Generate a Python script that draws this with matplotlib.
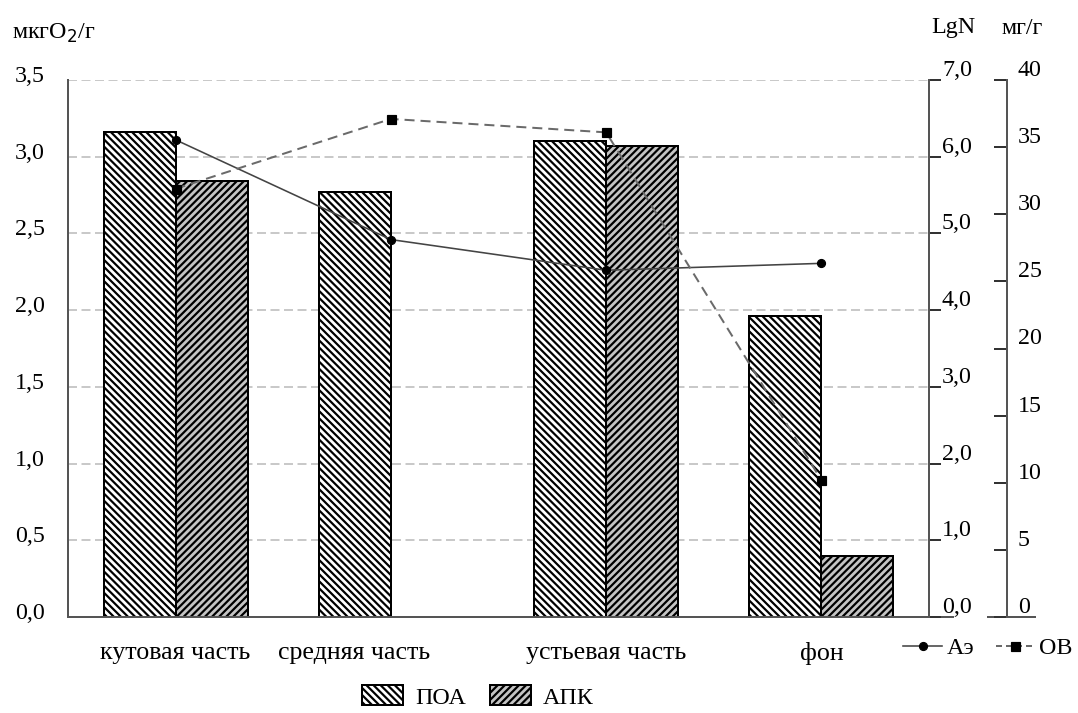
import matplotlib
matplotlib.use("Agg")
import matplotlib.pyplot as plt
import matplotlib.transforms as mtransforms
import numpy as np
from matplotlib.lines import Line2D
from matplotlib.patches import Patch

DPI = 85
W, H = 1078, 713

def px(n):
    # pixels -> points at the figure dpi
    return n * 72.0 / DPI

plt.rcParams['font.family'] = ['Liberation Serif', 'DejaVu Serif']
plt.rcParams['hatch.linewidth'] = px(2.2)

# data
categories = ["кутовая часть", "средняя часть", "устьевая часть", "фон"]
poa = [3.16, 2.77, 3.10, 1.96]        # ПОА, мкгO2/г
apk = [2.84, 0.0, 3.07, 0.40]         # АПК, мкгO2/г
ae = [6.22, 4.92, 4.52, 4.61]         # Аэ, LgN
ov = [31.9, 37.1, 36.1, 10.2]         # ОВ, мг/г
left_ticks = [0.0, 0.5, 1.0, 1.5, 2.0, 2.5, 3.0, 3.5]
lgn_ticks = [0, 1, 2, 3, 4, 5, 6, 7]
mg_ticks = [0, 5, 10, 15, 20, 25, 30, 35, 40]

def comma(v, nd=1):
    return f"{v:.{nd}f}".replace(".", ",")

FS = px(24)
SPINE = "#555555"
HATCH_POA = "\\" * 4
HATCH_APK = "/" * 4

fig = plt.figure(figsize=(W / DPI, H / DPI), dpi=DPI)
ax = fig.add_axes([68/W, 1-617/H, (929-68)/W, (617-80)/H])

x = np.arange(len(categories))
w = 0.335
ax.bar(x - w/2, poa, w, color="white", edgecolor="black", hatch=HATCH_POA, linewidth=px(2), zorder=2)
ax.bar(x + w/2, apk, w, color="#c4c4c4", edgecolor="black", hatch=HATCH_APK, linewidth=px(2), zorder=2)

ax.set_xlim(-0.5, 3.5)
ax.set_ylim(0, 3.5)
ax.set_yticks(left_ticks)
ax.set_yticklabels([comma(v) for v in left_ticks])
ax.yaxis.grid(True, linestyle=(0, (6, 3)), color="#b8b8b8", linewidth=px(1.5))
ax.set_axisbelow(True)
ax.set_xticks([0, 0.83, 2, 3])
ax.set_xticklabels(categories)
ax.tick_params(axis="x", length=0, pad=px(25), labelsize=px(26))
ax.tick_params(axis="y", length=0, pad=px(23), labelsize=FS)
for s in ["top", "right"]:
    ax.spines[s].set_visible(False)
for s in ["left", "bottom"]:
    ax.spines[s].set_color(SPINE)
    ax.spines[s].set_linewidth(px(2))

up = mtransforms.ScaledTranslation(0, px(6) / 72, fig.dpi_scale_trans)
for t in ax.get_yticklabels():
    t.set_transform(t.get_transform() + up)

# LgN axis
ax2 = ax.twinx()
ax2.set_ylim(0, 7)
ax2.set_yticks(lgn_ticks)
ax2.set_yticklabels([comma(v) for v in lgn_ticks])
ax2.tick_params(axis="y", direction="out", length=px(12), width=px(2), color="#333333",
                pad=px(1), labelsize=FS)
for s in ["top", "left", "bottom"]:
    ax2.spines[s].set_visible(False)
ax2.spines["right"].set_color(SPINE)
ax2.spines["right"].set_linewidth(px(2))
up2 = mtransforms.ScaledTranslation(0, px(12) / 72, fig.dpi_scale_trans)
for t in ax2.get_yticklabels():
    t.set_transform(t.get_transform() + up2)

# мг/г axis
ax3 = ax.twinx()
ax3.set_ylim(0, 40)
ax3.set_yticks(mg_ticks)
ax3.set_yticklabels([str(v) for v in mg_ticks])
ax3.spines["right"].set_position(("axes", (1007-68)/861))
ax3.tick_params(axis="y", direction="in", length=px(13), width=px(2), color="#333333",
                pad=px(11), labelsize=FS)
for s in ["top", "left", "bottom"]:
    ax3.spines[s].set_visible(False)
ax3.spines["right"].set_color(SPINE)
ax3.spines["right"].set_linewidth(px(2))
for t in ax3.get_yticklabels():
    t.set_transform(t.get_transform() + up2)

# base lines under the right axes
ax.plot([1.0, (953-68)/861], [0, 0], transform=ax.transAxes, color=SPINE, lw=px(2), clip_on=False)
ax.plot([(988-68)/861, (1035-68)/861], [0, 0], transform=ax.transAxes, color=SPINE, lw=px(2),
        clip_on=False)

# lines
ax2.plot(x, ae, color="#444444", lw=px(1.6), marker="o", markersize=px(8), markerfacecolor="black",
         markeredgecolor="black", zorder=5)
ax3.plot(x, ov, color="#6a6a6a", lw=px(2), linestyle=(0, (5, 3)), marker="s", markersize=px(9),
         markerfacecolor="black", markeredgecolor="black", zorder=5)

# axis titles
fig.text(12/W, 1-33/H, "мкгO$_2$/г", fontsize=FS, va="center", ha="left")
fig.text(953/W, 1-28/H, "LgN", fontsize=FS, va="center", ha="center")
fig.text(1022/W, 1-28/H, "мг/г", fontsize=FS, va="center", ha="center")

# legends
bar_handles = [Patch(facecolor="white", edgecolor="black", hatch=HATCH_POA, linewidth=px(2)),
               Patch(facecolor="#c4c4c4", edgecolor="black", hatch=HATCH_APK, linewidth=px(2))]
fig.legend(bar_handles, ["ПОА", "АПК"], loc="center", bbox_to_anchor=(478/W, 1-697/H),
           ncol=2, frameon=False, fontsize=FS, handlelength=1.7, handleheight=0.9,
           handletextpad=0.5, columnspacing=1.0, borderpad=0.2)
line_handles = [Line2D([], [], color="#444444", lw=px(1.6), marker="o", markersize=px(8),
                       markerfacecolor="black", markeredgecolor="black"),
                Line2D([], [], color="#6a6a6a", lw=px(2), linestyle=(0, (3, 2)), marker="s",
                       markersize=px(9), markerfacecolor="black", markeredgecolor="black")]
fig.legend(line_handles, ["Аэ", "ОВ"], loc="center", bbox_to_anchor=(988/W, 1-648/H),
           ncol=2, frameon=False, fontsize=FS, handlelength=1.6, handletextpad=0.2,
           columnspacing=0.9, borderpad=0.2)

fig.savefig("out.png", dpi=DPI)
